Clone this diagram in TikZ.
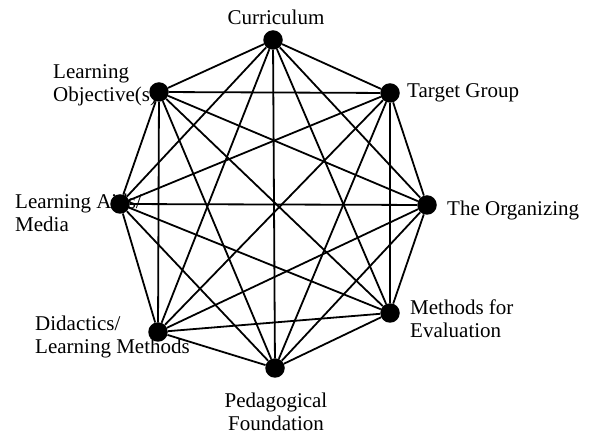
\documentclass[tikz,border=0pt]{standalone}
\usepackage{fontspec}
\setmainfont{Liberation Serif}
\usepackage{tikz}
\usetikzlibrary{positioning}

\begin{document}
\begin{tikzpicture}[x=1pt,y=-1pt,
    dot/.style={circle,fill=black,draw=none,minimum size=19.5pt,inner sep=0pt},
    lbl/.style={inner sep=0pt,align=left,font=\fontsize{21}{23}\selectfont},
    e/.style={line width=1.8pt,draw=black}]
    \useasboundingbox (0,0) rectangle (589,435);
    % labels first, so the lines run over them
    \node[lbl,anchor=base] (tcur) at (276,25) {Curriculum};
    \node[lbl,anchor=base west] (ttgt) at (407,98) {Target Group};
    \node[lbl,anchor=base west] (torg) at (447,216) {The Organizing};
    \node[lbl,anchor=north west] (tobj) at (53,64) {Learning\\Objective(s)};
    \node[lbl,anchor=north west] (taid) at (15,194) {Learning Aids/\\Media};
    \node[lbl,anchor=north west] (teva) at (410,300) {Methods for\\Evaluation};
    \node[lbl,anchor=north,align=center] (tped) at (276,393) {Pedagogical\\Foundation};
    \node[lbl,anchor=north west] (tdid) at (35,316) {Didactics/\\Learning Methods};
    % the eight dots
    \node[dot] (cur) at (273,40) {};
    \node[dot] (tgt) at (390,93) {};
    \node[dot] (org) at (427,205) {};
    \node[dot] (eva) at (390,313) {};
    \node[dot] (ped) at (275,368) {};
    \node[dot] (did) at (158,332) {};
    \node[dot] (aid) at (120,204) {};
    \node[dot] (obj) at (159,92) {};
    % every dot joined to every other one
    \foreach \a/\i in {cur/1,tgt/2,org/3,eva/4,ped/5,did/6,aid/7,obj/8}
      \foreach \b/\j in {cur/1,tgt/2,org/3,eva/4,ped/5,did/6,aid/7,obj/8}
        {\ifnum\i<\j \draw[e] (\a)--(\b); \fi}
\end{tikzpicture}
\end{document}
